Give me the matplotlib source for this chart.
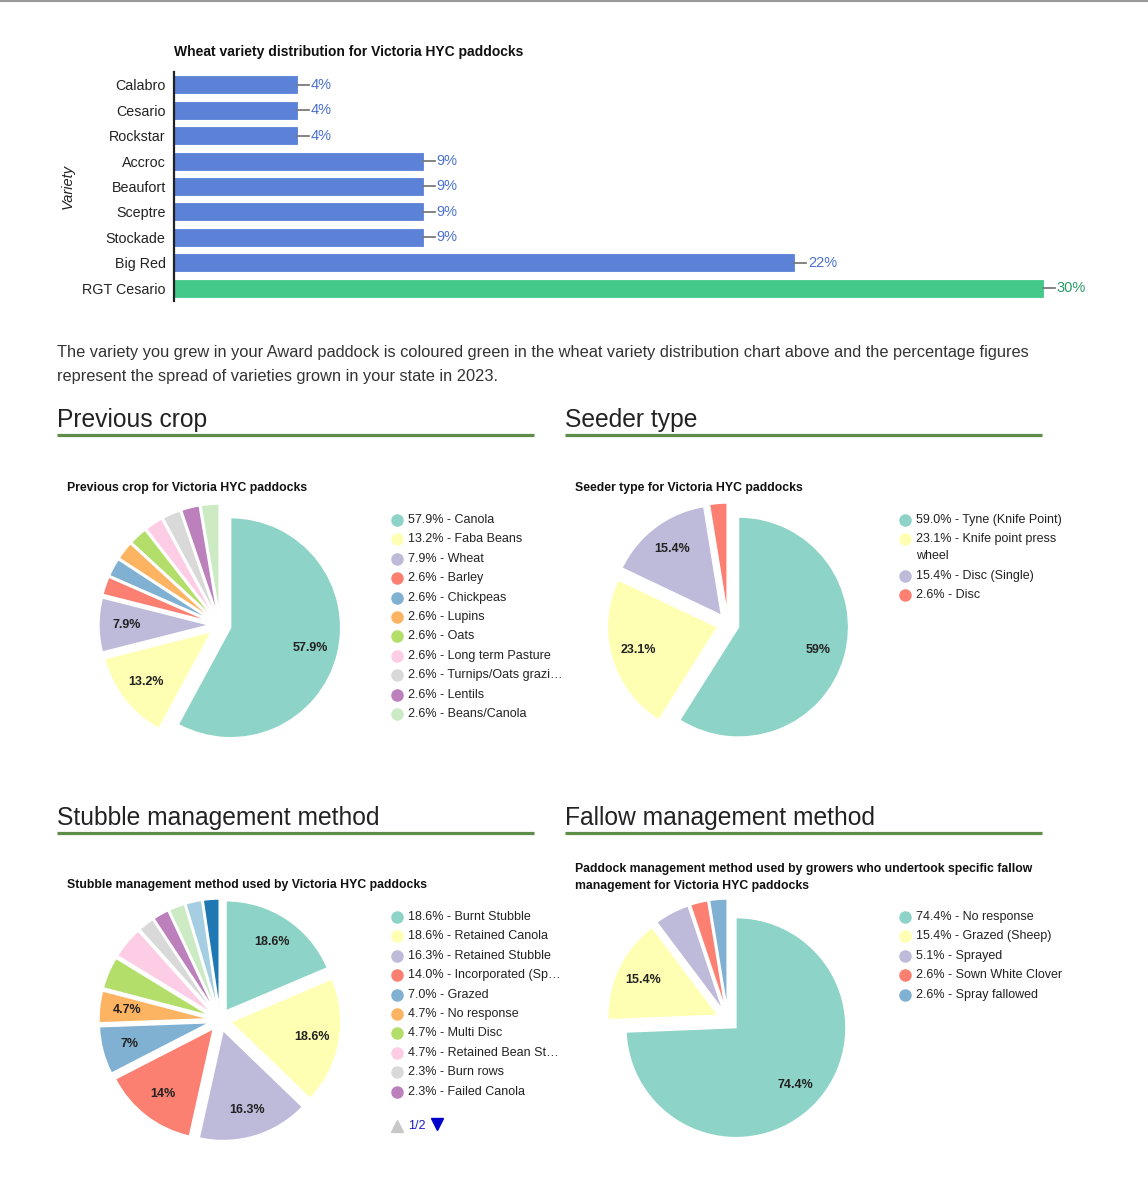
import math
import textwrap

import matplotlib
matplotlib.use("Agg")
import matplotlib.pyplot as plt
from matplotlib.lines import Line2D

# ---- data ----
varieties = ["Calabro", "Cesario", "Rockstar", "Accroc", "Beaufort",
             "Sceptre", "Stockade", "Big Red", "RGT Cesario"]
variety_pct = [4.3, 4.3, 4.3, 8.7, 8.7, 8.7, 8.7, 21.7, 30.4]
my_variety = "RGT Cesario"

prev_crop_names = ["Canola", "Faba Beans", "Wheat", "Barley", "Chickpeas", "Lupins",
                   "Oats", "Long term Pasture", "Turnips/Oats grazi\u2026", "Lentils",
                   "Beans/Canola"]
prev_crop_counts = [22, 5, 3, 1, 1, 1, 1, 1, 1, 1, 1]

seeder_names = ["Tyne (Knife Point)", "Knife point press wheel", "Disc (Single)", "Disc"]
seeder_counts = [23, 9, 6, 1]

# only the first legend page (10 of 13 entries) is visible
stubble_names = ["Burnt Stubble", "Retained Canola", "Retained Stubble",
                 "Incorporated (Sp\u2026", "Grazed", "No response", "Multi Disc",
                 "Retained Bean St\u2026", "Burn rows", "Failed Canola"]
stubble_counts = [8, 8, 7, 6, 3, 2, 2, 2, 1, 1, 1, 1, 1]

fallow_names = ["No response", "Grazed (Sheep)", "Sprayed", "Sown White Clover",
                "Spray fallowed"]
fallow_counts = [29, 6, 2, 1, 1]

PALETTE = ["#8dd3c7", "#ffffb3", "#bebada", "#fb8072", "#80b1d3", "#fdb462",
           "#b3de69", "#fccde5", "#d9d9d9", "#bc80bd", "#ccebc5", "#a6cee3",
           "#1f78b4"]

W, H = 1148, 1200
plt.rcParams["font.family"] = ["Liberation Sans", "DejaVu Sans"]

fig = plt.figure(figsize=(W / 100, H / 100), dpi=100)


def fx(x):
    return x / W


def fy(y):
    return 1 - y / H


def px_rect(x0, y0, x1, y1):
    return [x0 / W, 1 - y1 / H, (x1 - x0) / W, (y1 - y0) / H]


def hline(x0, x1, y, color, lw):
    fig.add_artist(Line2D([fx(x0), fx(x1)], [fy(y), fy(y)], transform=fig.transFigure,
                          color=color, lw=lw, solid_capstyle="butt"))


# grey rule at very top
hline(0, W, 0.5, "#9a9a9a", 1.5)

# ---- bar chart ----
ax = fig.add_axes(px_rect(174, 72, 1089, 301))
blue, green = "#5b82d6", "#43c98a"
colors = [green if v == my_variety else blue for v in varieties]
ypos = list(range(len(varieties)))
ax.barh(ypos, variety_pct, height=0.67, color=colors, edgecolor=colors, linewidth=0.6)
ax.set_xlim(0, 32)
ax.set_ylim(len(varieties) - 0.5, -0.5)
ax.set_yticks(ypos)
ax.set_yticklabels(varieties, fontsize=10.3, color="#222222")
ax.tick_params(axis="y", length=0, pad=6)
ax.set_xticks([])
for s in ["top", "right", "bottom"]:
    ax.spines[s].set_visible(False)
ax.spines["left"].set_linewidth(1.6)
ax.spines["left"].set_color("#222222")
ax.set_ylabel("Variety", fontsize=10.5, style="italic", color="#222222", labelpad=5)
for y, v, c in zip(ypos, variety_pct, colors):
    ax.plot([v, v + 0.42], [y, y], color="#7a7a7a", lw=1.3, clip_on=False)
    tc = "#2a9a66" if c == green else "#4a70cf"
    ax.text(v + 0.47, y, f"{v:.0f}%", va="center", ha="left", fontsize=10.5, color=tc)
fig.text(fx(174), fy(52), "Wheat variety distribution for Victoria HYC paddocks",
         fontsize=10, fontweight="bold", va="center", ha="left", color="#111111")

# ---- paragraph ----
fig.text(fx(57), fy(352), "The variety you grew in your Award paddock is coloured green in the "
         "wheat variety distribution chart above and the percentage figures",
         fontsize=11.75, va="center", ha="left", color="#333333")
fig.text(fx(57), fy(376), "represent the spread of varieties grown in your state in 2023.",
         fontsize=11.75, va="center", ha="left", color="#333333")


def heading(x, y, text):
    fig.text(fx(x), fy(y), text, fontsize=17.7, va="center", ha="left", color="#222222")
    hline(x, x + 477, y + 15, "#5e8d49", 2.3)


heading(57, 420, "Previous crop")
heading(565, 420, "Seeder type")
heading(57, 818, "Stubble management method")
heading(565, 818, "Fallow management method")


def fmt_pct(v):
    return f"{v:.1f}".rstrip("0").rstrip(".") + "%"


def pie_chart(cx, cy, counts, names, title_lines, title_y, shown, leg_y):
    total = sum(counts)
    shares = [c / total * 100 for c in counts]
    cols = PALETTE[:len(counts)]
    pax = fig.add_axes(px_rect(cx - 143, cy - 143, cx + 143, cy + 143))
    wedges, _ = pax.pie(counts, colors=cols, startangle=90, counterclock=False,
                        explode=[0.1] * len(counts), radius=1,
                        wedgeprops=dict(edgecolor="white", linewidth=1.0))
    pax.set_xlim(-1.3, 1.3)
    pax.set_ylim(-1.3, 1.3)
    pax.set_aspect("equal")
    pax.axis("off")
    for i in shown:
        w = wedges[i]
        mid = math.radians((w.theta1 + w.theta2) / 2)
        x0, y0 = w.center
        pax.text(x0 + 0.75 * math.cos(mid), y0 + 0.75 * math.sin(mid), fmt_pct(shares[i]),
                 ha="center", va="center", fontsize=9, fontweight="bold", color="#222222")

    tx = cx - 153
    for k, line in enumerate(title_lines):
        fig.text(fx(tx), fy(title_y + 17 * k), line, fontsize=8.8, fontweight="bold",
                 va="center", ha="left", color="#111111")

    # legend
    lx = cx + 177
    y = leg_y
    for name, col, sh in zip(names, cols, shares):
        lines = textwrap.wrap(f"{sh:.1f}% - {name}", 26)
        fig.add_artist(Line2D([fx(lx)], [fy(y)], transform=fig.transFigure, marker="o",
                              markersize=8, color=col, ls=""))
        for k, line in enumerate(lines):
            fig.text(fx(lx + 11), fy(y + 17 * k), line, fontsize=9, va="center",
                     ha="left", color="#222222")
        y += 19.4 + 17 * (len(lines) - 1)
    return lx, y


pie_chart(220, 625, prev_crop_counts, prev_crop_names,
          ["Previous crop for Victoria HYC paddocks"], 488, [0, 1, 2], 520)
pie_chart(728, 624, seeder_counts, seeder_names,
          ["Seeder type for Victoria HYC paddocks"], 488, [0, 1, 2], 520)
lx, _ = pie_chart(220, 1020, stubble_counts, stubble_names,
                  ["Stubble management method used by Victoria HYC paddocks"], 885,
                  [0, 1, 2, 3, 4, 5], 917)
pie_chart(728, 1020, fallow_counts, fallow_names,
          ["Paddock management method used by growers who undertook specific fallow",
           "management for Victoria HYC paddocks"], 869, [0, 1], 917)

# legend paging for stubble chart
fig.add_artist(Line2D([fx(lx)], [fy(1126)], transform=fig.transFigure, marker="^",
                      markersize=9, color="#c8c8c8", ls=""))
fig.text(fx(lx + 11), fy(1126), "1/2", fontsize=9, va="center", ha="left", color="#1a1acc")
fig.add_artist(Line2D([fx(lx + 40)], [fy(1124)], transform=fig.transFigure, marker="v",
                      markersize=9, color="#0000cc", ls=""))

fig.savefig("out.png", dpi=100)
